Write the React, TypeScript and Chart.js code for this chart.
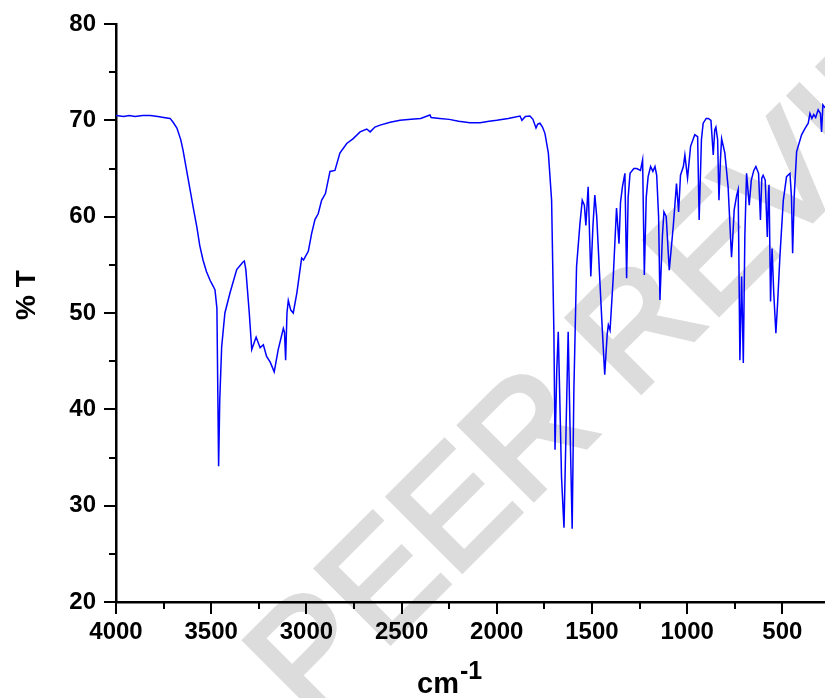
import React, { useEffect, useRef } from "react";
import { Chart, registerables } from "chart.js";

Chart.register(...registerables);

// IR spectrum: wavenumber (cm-1) and % transmittance
const wavenumbers = [
  4000, 3960, 3930, 3900, 3860, 3820, 3780, 3750, 3716, 3700, 3680, 3660, 3648, 3630, 3611, 3593, 3575, 3560, 3543,
  3525, 3506, 3490, 3480, 3470, 3461, 3455, 3445, 3428, 3401, 3366, 3333, 3326, 3318, 3300, 3287, 3264, 3243, 3226,
  3209, 3190, 3169, 3148, 3121, 3115, 3109, 3102, 3095, 3082, 3069, 3050, 3025, 3015, 3007, 2990, 2972, 2955, 2938,
  2920, 2900, 2876, 2850, 2824, 2788, 2754, 2718, 2683, 2665, 2640, 2613, 2560, 2508, 2450, 2400, 2351, 2345, 2300,
  2250, 2200, 2141, 2088, 2040, 2000, 1940, 1878, 1868, 1850, 1826, 1810, 1794, 1785, 1773, 1760, 1747, 1729, 1712,
  1700, 1694, 1685, 1677, 1670, 1660, 1647, 1636, 1625, 1615, 1604, 1595, 1581, 1563, 1551, 1540, 1532, 1520, 1506,
  1495, 1485, 1475, 1465, 1458, 1445, 1433, 1420, 1414, 1405, 1388, 1371, 1358, 1350, 1340, 1327, 1318, 1310, 1300,
  1280, 1265, 1245, 1234, 1225, 1215, 1205, 1192, 1180, 1169, 1160, 1150, 1143, 1130, 1122, 1110, 1094, 1073, 1056,
  1045, 1035, 1020, 1012, 998, 982, 960, 945, 937, 925, 916, 900, 889, 875, 863, 855, 849, 840, 833, 825, 819, 802,
  785, 767, 760, 753, 740, 732, 723, 714, 705, 697, 688, 674, 663, 650, 639, 625, 615, 608, 601, 590, 579, 573, 570,
  562, 557, 554, 545, 534, 525, 513, 495, 478, 460, 452, 446, 438, 425, 399, 380, 364, 355, 345, 335, 325, 312, 300,
  294, 287, 276,
];
const transmittance = [
  70.5, 70.4, 70.5, 70.4, 70.5, 70.5, 70.4, 70.3, 70.2, 69.8, 69.2, 68.0, 66.9, 64.9, 62.8, 60.8, 58.9, 57.0, 55.5,
  54.3, 53.4, 52.8, 52.4, 50.5, 34.1, 41.0, 46.5, 50.0, 52.1, 54.5, 55.3, 55.4, 54.5, 50.0, 46.2, 47.5, 46.4, 46.7,
  45.5, 44.9, 43.9, 46.2, 48.4, 48.0, 45.1, 50.0, 51.3, 50.3, 50.0, 52.1, 55.7, 55.5, 55.8, 56.4, 58.3, 59.7, 60.3,
  61.7, 62.4, 64.7, 64.8, 66.6, 67.6, 68.1, 68.8, 69.1, 68.8, 69.3, 69.5, 69.8, 70.0, 70.1, 70.2, 70.55, 70.3, 70.2,
  70.1, 69.9, 69.75, 69.75, 69.9, 70.0, 70.2, 70.45, 70.0, 70.4, 70.45, 70.1, 69.2, 69.6, 69.7, 69.3, 68.65, 66.6, 61.7,
  48.0, 35.8, 44.0, 48.05, 42.0, 33.0, 27.7, 38.0, 48.05, 38.0, 27.6, 42.0, 54.8, 59.3, 61.7, 61.2, 59.1, 63.1, 53.8,
  59.0, 62.25, 60.0, 56.0, 53.1, 48.0, 43.6, 47.8, 48.75, 48.2, 53.8, 60.9, 57.2, 61.5, 63.1, 64.5, 53.6, 62.0, 64.5,
  65.0, 65.0, 64.8, 65.9, 53.95, 62.0, 64.15, 65.2, 64.7, 65.2, 64.3, 60.0, 51.35, 58.0, 60.5, 60.0, 54.45, 59.0, 63.45,
  60.5, 64.3, 65.2, 66.4, 64.0, 67.3, 68.5, 68.3, 59.65, 68.0, 69.7, 70.2, 70.2, 70.0, 66.4, 69.0, 69.3, 68.0, 61.7, 66.0, 68.1, 66.6,
  63.1, 55.8, 58.0, 60.7, 62.2, 62.8, 45.1, 53.8, 44.8, 58.0, 64.5, 61.2, 63.8, 64.8, 65.2, 64.5, 59.65, 64.0, 64.3, 63.8, 57.9, 62.5, 63.3,
  51.2, 55.0, 56.7, 52.0, 47.9, 51.0, 55.8, 61.7, 64.15, 64.5, 62.0, 56.2, 62.0, 66.75, 68.5, 69.2, 69.7, 70.7, 70.2, 70.6, 70.3, 71.1, 70.7,
  68.8, 71.6, 71.3,
];

const xTickValues = [4000, 3500, 3000, 2500, 2000, 1500, 1000, 500];
const xMinorTickValues = [3750, 3250, 2750, 2250, 1750, 1250, 750];
const yTickValues = [20, 30, 40, 50, 60, 70, 80];
const yMinorTickValues = [25, 35, 45, 55, 65, 75];
const xTitle = "cm";
const xTitleSup = "-1";
const yTitle = "% T";
const watermarkText = "PEER REVIEW";

const FONT = '"Liberation Sans", Arial, Helvetica, sans-serif';

const watermarkPlugin = {
  id: "watermark",
  beforeDraw(chart: any) {
    const ctx = chart.ctx;
    ctx.save();
    ctx.translate(310, 723);
    ctx.rotate(-Math.PI / 4);
    ctx.font = `152px ${FONT}`;
    ctx.fillStyle = "#dcdcdc";
    ctx.strokeStyle = "#dcdcdc";
    ctx.lineWidth = 5;
    ctx.lineJoin = "miter";
    ctx.textBaseline = "alphabetic";
    ctx.textAlign = "left";
    ctx.fillText(watermarkText, 0, 0);
    ctx.strokeText(watermarkText, 0, 0);
    ctx.restore();
  },
};

const axesDecorPlugin = {
  id: "axesDecor",
  afterDraw(chart: any) {
    const ctx = chart.ctx;
    const xs = chart.scales.x;
    const ys = chart.scales.y;
    const area = chart.chartArea;
    ctx.save();
    ctx.strokeStyle = "#000";
    ctx.lineWidth = 2;
    ctx.lineCap = "butt";
    const xTick = (v: number, len: number) => {
      const px = Math.round(xs.getPixelForValue(v));
      ctx.beginPath();
      ctx.moveTo(px, area.bottom);
      ctx.lineTo(px, area.bottom + len);
      ctx.stroke();
    };
    const yTick = (v: number, len: number) => {
      const py = Math.round(ys.getPixelForValue(v));
      ctx.beginPath();
      ctx.moveTo(area.left, py);
      ctx.lineTo(area.left - len, py);
      ctx.stroke();
    };
    xTickValues.forEach((v) => xTick(v, 12));
    xMinorTickValues.forEach((v) => xTick(v, 7));
    yTickValues.forEach((v) => yTick(v, 12));
    yMinorTickValues.forEach((v) => yTick(v, 7));

    // x title with superscript
    ctx.fillStyle = "#000";
    ctx.textBaseline = "alphabetic";
    ctx.textAlign = "left";
    ctx.font = `bold 29px ${FONT}`;
    const cmW = ctx.measureText(xTitle).width;
    const startX = 417;
    ctx.fillText(xTitle, startX, 693);
    ctx.font = `bold 25px ${FONT}`;
    ctx.fillText(xTitleSup, startX + cmW + 1, 679);

    // y title
    ctx.save();
    ctx.translate(35, 295);
    ctx.rotate(-Math.PI / 2);
    ctx.textAlign = "center";
    ctx.font = `bold 28px ${FONT}`;
    ctx.fillText(yTitle, 0, 0);
    ctx.restore();
    ctx.restore();
  },
};

export default function App() {
  const ref = useRef<HTMLCanvasElement | null>(null);
  useEffect(() => {
    if (!ref.current) return;
    const chart = new Chart(ref.current, {
      type: "line",
      data: {
        datasets: [
          {
            data: wavenumbers.map((w, i) => ({ x: w, y: transmittance[i] })),
            borderColor: "#0000ff",
            borderWidth: 1.5,
            pointRadius: 0,
            tension: 0,
            fill: false,
          },
        ],
      },
      options: {
        animation: false,
        responsive: false,
        devicePixelRatio: 1,
        layout: { padding: { top: 24, right: 0, left: 0, bottom: 0 } },
        plugins: { legend: { display: false }, tooltip: { enabled: false } },
        scales: {
          x: {
            type: "linear",
            reverse: true,
            min: 276,
            max: 4000,
            afterBuildTicks: (s: any) => {
              s.ticks = xTickValues.map((v) => ({ value: v }));
            },
            afterFit: (s: any) => {
              s.height = 96;
            },
            grid: { display: true, color: "rgba(0,0,0,0)", drawTicks: true, tickLength: 12, tickColor: "rgba(0,0,0,0)" },
            border: { display: true, color: "#000", width: 2.5 },
            ticks: {
              color: "#000",
              padding: 4,
              maxRotation: 0,
              autoSkip: false,
              callback: (v: any) => String(v),
              font: { family: FONT, size: 24, weight: "bold" },
            },
          },
          y: {
            type: "linear",
            min: 20,
            max: 80,
            afterBuildTicks: (s: any) => {
              s.ticks = yTickValues.map((v) => ({ value: v }));
            },
            afterFit: (s: any) => {
              s.width = 116;
            },
            grid: { display: true, color: "rgba(0,0,0,0)", drawTicks: true, tickLength: 12, tickColor: "rgba(0,0,0,0)" },
            border: { display: true, color: "#000", width: 2.5 },
            ticks: {
              color: "#000",
              padding: 8,
              autoSkip: false,
              callback: (v: any) => String(v),
              font: { family: FONT, size: 24, weight: "bold" },
            },
          },
        },
      },
      plugins: [watermarkPlugin, axesDecorPlugin],
    } as any);
    return () => chart.destroy();
  }, []);
  return (
    <div style={{ position: "absolute", left: 0, top: 0, width: 825, height: 698, background: "#fff" }}>
      <canvas ref={ref} width={825} height={698} style={{ display: "block" }} />
    </div>
  );
}
